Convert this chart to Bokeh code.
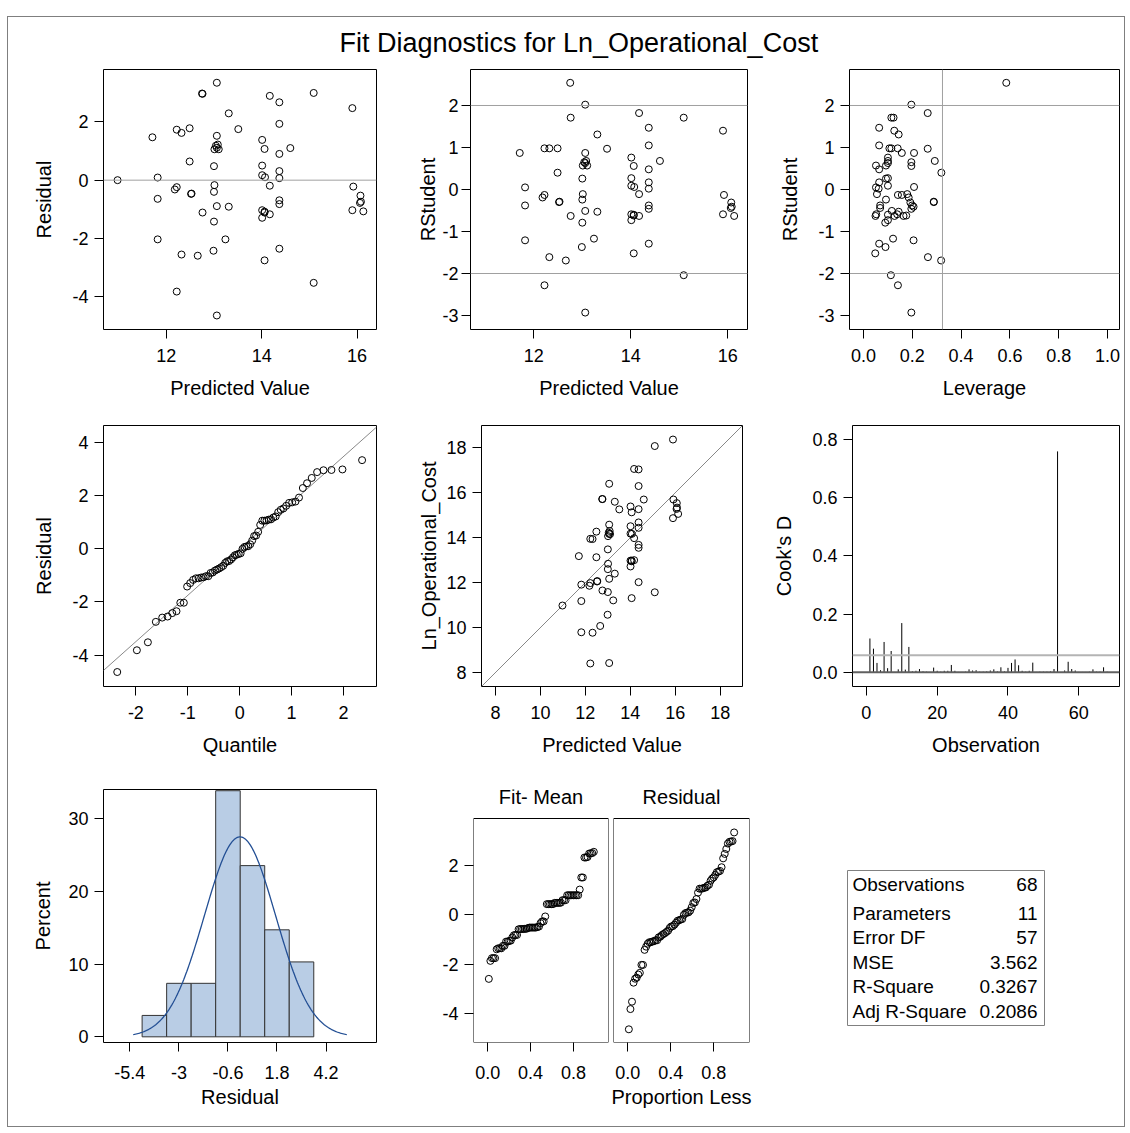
import math
import statistics
import numpy as np
from bokeh.plotting import figure
from bokeh.models import Range1d, FixedTicker, CustomJSTickFormatter, Span, BoxAnnotation, Label
from bokeh.layouts import row, column
from bokeh.embed import file_html
from bokeh.resources import INLINE
from bokeh.core.properties import value

nan = float("nan")

# ---------------- data ----------------
pred = [10.98, 11.71, 11.82, 11.82, 11.82, 12.18, 12.22, 12.22, 12.32, 12.32,
        12.22, 12.75, 12.76, 12.76, 12.66, 12.49, 12.49, 12.52, 12.53, 13.06,
        13.06, 13.01, 13.06, 13.10, 13.04, 13.08, 13.00, 13.01, 13.00, 13.06,
        13.00, 12.99, 13.06, 13.31, 13.51, 13.31, 13.24, 14.17, 14.01, 14.06,
        14.01, 14.01, 14.07, 14.17, 14.01, 14.06, 14.17, 14.01, 14.06, 14.06,
        14.37, 14.37, 14.37, 14.37, 14.37, 14.37, 14.37, 14.37, 14.60, 15.09,
        15.09, 15.90, 15.92, 16.07, 16.08, 16.06, 15.90, 16.13]
resid = [0.00, 1.47, 0.09, -0.64, -2.03, -0.32, -0.24, 1.73, 1.62, -2.55,
         -3.82, 2.97, 2.96, -1.11, -2.59, 1.78, 0.64, -0.47, -0.46, 3.34,
         1.52, 1.06, 1.11, 1.06, 1.18, 1.22, 0.48, -0.17, -0.40, -0.89,
         -1.42, -2.42, -4.64, 2.29, 1.75, -0.91, -2.03, 2.89, 1.38, 1.07,
         0.50, 0.17, 0.10, -0.19, -1.03, -1.11, -1.17, -1.29, -2.75, -1.08,
         2.67, 1.93, 0.90, 0.31, 0.07, -0.69, -0.82, -2.35, 1.10, 2.99,
         -3.52, 2.47, -0.22, -0.53, -0.74, -0.78, -1.03, -1.07]
rstudent = [nan, 0.87, 0.05, -0.38, -1.21, -0.19, -0.13, 0.98, 0.98, -1.61,
            -2.28, 2.54, 1.71, -0.63, -1.69, 0.98, 0.40, -0.30, -0.29, 2.02,
            0.87, 0.57, 0.63, 0.57, 0.65, 0.68, 0.26, -0.11, -0.24, -0.51,
            -0.79, -1.37, -2.93, 1.31, 0.97, -0.53, -1.17, 1.82, 0.76, 0.56,
            0.27, 0.09, 0.06, -0.11, -0.59, -0.62, -0.63, -0.73, -1.52, -0.60,
            1.47, 1.05, 0.48, 0.17, 0.02, -0.38, -0.46, -1.29, 0.68, 1.71,
            -2.04, 1.40, -0.13, -0.31, -0.41, -0.44, -0.59, -0.63]
leverage = [1.0, 0.157, 0.051, 0.068, 0.205, 0.185, 0.141, 0.106, 0.114, 0.264,
            0.141, 0.585, 0.114, 0.164, 0.318, 0.140, 0.319, 0.288, 0.288, 0.196,
            0.207, 0.051, 0.100, 0.092, 0.196, 0.100, 0.092, 0.055, 0.092, 0.116,
            0.089, 0.090, 0.196, 0.144, 0.263, 0.144, 0.121, 0.263, 0.100, 0.196,
            0.100, 0.100, 0.207, 0.179, 0.052, 0.175, 0.127, 0.100, 0.048, 0.100,
            0.064, 0.064, 0.064, 0.064, 0.062, 0.199, 0.196, 0.064, 0.292, 0.123,
            0.112, 0.126, 0.157, 0.192, 0.205, 0.068, 0.138, 0.049]
cooks_d = [0.116, 0.081, 0.032, 0.007, 0.104, 0.014, 0.073, 0.001, 0.010, 0.169,
           0.009, 0.087, 0.003, 0.005, 0.011, 0.003, 0.002, 0.001, 0.016, 0.005,
           0.002, 0.005, 0.005, 0.025, 0.005, 0.001, 0.001, 0.002, 0.010, 0.006,
           0.007, 0.002, 0.002, 0.003, 0.006, 0.010, 0.003, 0.017, 0.003, 0.015,
           0.032, 0.044, 0.024, 0.005, 0.002, 0.005, 0.033, 0.001, 0.002, 0.002,
           0.002, 0.003, 0.011, 0.759, nan, 0.006, 0.036, 0.011, 0.006, 0.001,
           0.001, 0.001, 0.002, 0.010, 0.002, 0.002, 0.017, 0.002]
hist_edges = [-4.8, -3.6, -2.4, -1.2, 0.0, 1.2, 2.4, 3.6]
n_params = 11
stat_labels = ["Observations", "Parameters", "Error DF", "MSE", "R-Square", "Adj R-Square"]
stat_values = ["68", "11", "57", "3.562", "0.3267", "0.2086"]
title_text = "Fit Diagnostics for Ln_Operational_Cost"

# ---------------- derived statistics ----------------
n = len(resid)
pred_a = np.array(pred)
resid_a = np.array(resid)
obs_a = pred_a + resid_a
rs_a = np.array(rstudent)
lev_a = np.array(leverage)
ok = ~np.isnan(rs_a)
mean_r = float(resid_a.mean())
sd_r = float(resid_a.std(ddof=1))
nd = statistics.NormalDist()
qq_q = [nd.inv_cdf((i + 1 - 0.375) / (n + 0.25)) for i in range(n)]
qq_r = sorted(resid)
prop = [(i + 1 - 0.375) / (n + 0.25) for i in range(n)]
fit_mean = sorted(list(pred_a - pred_a.mean()))
counts, _ = np.histogram(resid_a, bins=hist_edges)
pct = counts / n * 100.0
curve_x = np.linspace(mean_r - 3.0 * sd_r, mean_r + 3.0 * sd_r, 200)
curve_y = 100.0 * 1.2 * np.exp(-0.5 * ((curve_x - mean_r) / sd_r) ** 2) / (sd_r * math.sqrt(2 * math.pi))
obs_idx = [i + 1 for i in range(n) if not math.isnan(cooks_d[i])]
cd_vals = [c for c in cooks_d if not math.isnan(c)]

# ---------------- styling helpers ----------------
FONT = "Liberation Sans"
TICK_FS = "18px"
LAB_FS = "20px"
REF = "#a0a0a0"


def fmt_auto():
    return CustomJSTickFormatter(code="return String(Math.round(tick*10)/10);")


def fmt_one():
    return CustomJSTickFormatter(code="return tick.toFixed(1);")


def mkfig(W, H, L, R, T, B, xr, yr, outline=True):
    p = figure(width=W, height=H, x_range=Range1d(*xr), y_range=Range1d(*yr),
               output_backend="svg", toolbar_location=None,
               min_border_left=L, min_border_right=R,
               min_border_top=T, min_border_bottom=B)
    p.outline_line_color = "#000000" if outline else None
    p.outline_line_width = 1
    p.grid.visible = False
    p.background_fill_color = "white"
    p.border_fill_color = "white"
    for ax in p.axis:
        ax.axis_line_color = None
        ax.major_tick_line_color = "#000000"
        ax.major_tick_out = 9
        ax.major_tick_in = 0
        ax.minor_tick_line_color = None
        ax.major_label_text_font = FONT
        ax.major_label_text_font_size = TICK_FS
        ax.major_label_text_color = "#000000"
        ax.axis_label_text_font = FONT
        ax.axis_label_text_font_size = LAB_FS
        ax.axis_label_text_font_style = "normal"
        ax.axis_label_text_color = "#000000"
    p.xaxis.major_label_standoff = 10
    p.yaxis.major_label_standoff = 6
    p.xaxis.axis_label_standoff = 12
    p.yaxis.axis_label_standoff = 14
    return p


def ticks(p, xt, yt, xf=None, yf=None):
    p.xaxis.ticker = FixedTicker(ticks=xt)
    p.yaxis.ticker = FixedTicker(ticks=yt)
    p.xaxis.formatter = xf if xf is not None else fmt_auto()
    p.yaxis.formatter = yf if yf is not None else fmt_auto()


def circles(p, x, y):
    p.scatter(x, y, marker="circle", size=7, fill_color=None,
              line_color="#000000", line_width=1)


def hline(p, y, color=REF, width=1):
    p.add_layout(Span(location=y, dimension="width", line_color=color, line_width=width))


def vline(p, x, color=REF, width=1):
    p.add_layout(Span(location=x, dimension="height", line_color=color, line_width=width))


# ---------------- title ----------------
pt = figure(width=1116, height=50, x_range=Range1d(0, 1), y_range=Range1d(0, 1),
            output_backend="svg", toolbar_location=None,
            min_border_left=0, min_border_right=0, min_border_top=0, min_border_bottom=0)
pt.axis.visible = False
pt.grid.visible = False
pt.outline_line_color = None
pt.text(x=[0.511], y=[0.5], text=[title_text], text_align="center", text_baseline="middle",
        text_font=value(FONT), text_font_size="27px", text_color="#000000")

# ---------------- row 1 (cells: 8-400, 400-770, 770-1124) ----------------
p1 = mkfig(392, 343, 95, 24, 2, 81, (10.685, 16.406), (-5.12, 3.794))
ticks(p1, [12, 14, 16], [-4, -2, 0, 2])
hline(p1, 0)
circles(p1, pred, resid)
p1.xaxis.axis_label = "Predicted Value"
p1.yaxis.axis_label = "Residual"

p2 = mkfig(370, 343, 70, 23, 2, 81, (10.695, 16.405), (-3.333, 2.857))
ticks(p2, [12, 14, 16], [-3, -2, -1, 0, 1, 2])
hline(p2, 2)
hline(p2, -2)
circles(p2, list(pred_a[ok]), list(rs_a[ok]))
p2.xaxis.axis_label = "Predicted Value"
p2.yaxis.axis_label = "RStudent"
p2.yaxis.major_label_standoff = 3
p2.yaxis.axis_label_standoff = 0

p3 = mkfig(354, 343, 79, 5, 2, 81, (-0.0575, 1.049), (-3.333, 2.857))
ticks(p3, [0, 0.2, 0.4, 0.6, 0.8, 1.0], [-3, -2, -1, 0, 1, 2], xf=fmt_one())
hline(p3, 2)
hline(p3, -2)
vline(p3, 2.0 * n_params / n)
circles(p3, list(lev_a[ok]), list(rs_a[ok]))
p3.xaxis.axis_label = "Leverage"
p3.yaxis.axis_label = "RStudent"

# ---------------- row 2 ----------------
p4 = mkfig(392, 360, 95, 24, 15, 84, (-2.624, 2.637), (-5.185, 4.645))
ticks(p4, [-2, -1, 0, 1, 2], [-4, -2, 0, 2, 4])
p4.line([-2.624, 2.637], [mean_r - 2.624 * sd_r, mean_r + 2.637 * sd_r],
        line_color="#888888", line_width=1)
circles(p4, qq_q, qq_r)
p4.xaxis.axis_label = "Quantile"
p4.yaxis.axis_label = "Residual"

p5 = mkfig(370, 360, 81, 28, 15, 84, (7.376, 18.995), (7.376, 18.995))
ticks(p5, [8, 10, 12, 14, 16, 18], [8, 10, 12, 14, 16, 18])
p5.line([7.376, 18.995], [7.376, 18.995], line_color="#888888", line_width=1)
circles(p5, pred, list(obs_a))
p5.xaxis.axis_label = "Predicted Value"
p5.yaxis.axis_label = "Ln_Operational_Cost"
p5.yaxis.axis_label_standoff = 3

p6 = mkfig(354, 360, 79, 5, 15, 84, (-3.92, 71.5), (-0.049, 0.848))
ticks(p6, [0, 20, 40, 60], [0, 0.2, 0.4, 0.6, 0.8], yf=fmt_one())
hline(p6, 4.0 / n, color="#b4b4b4", width=2)
hline(p6, 0, color="#606060", width=2)
p6.segment(x0=obs_idx, y0=[0] * len(obs_idx), x1=obs_idx, y1=cd_vals,
           line_color="#000000", line_width=1)
p6.xaxis.axis_label = "Observation"
p6.yaxis.axis_label = "Cook's D"

# ---------------- row 3 (common frame y 789..1042) ----------------
p7 = mkfig(392, 356, 95, 24, 19, 84, (-6.69, 6.67), (-0.78, 33.99))
ticks(p7, [-5.4, -3, -0.6, 1.8, 4.2], [0, 10, 20, 30])
p7.quad(left=hist_edges[:-1], right=hist_edges[1:], bottom=0, top=list(pct),
        fill_color="#b9cde5", line_color="#333333", line_width=1)
p7.line(list(curve_x), list(curve_y), line_color="#234f94", line_width=1.3)
p7.xaxis.axis_label = "Residual"
p7.yaxis.axis_label = "Percent"
p7.yaxis.axis_label_standoff = 11

RF_Y = (-5.175, 5.081)
RF_TOP = 3.905
p8a = mkfig(211, 356, 73, 3, 19, 84, (-0.134, 1.128), RF_Y, outline=False)
ticks(p8a, [0, 0.4, 0.8], [-4, -2, 0, 2], xf=fmt_one())
p8a.add_layout(BoxAnnotation(left=-0.134, right=1.128, bottom=RF_Y[0], top=RF_TOP,
                             fill_color=None, line_color="#000000", line_alpha=1.0,
                             line_width=1))
circles(p8a, prop, fit_mean)
p8a.add_layout(Label(x=0.497, y=4.76, text="Fit- Mean", text_align="center",
                     text_baseline="middle", text_font=FONT, text_font_size=LAB_FS,
                     text_color="#000000"))
p8a.xaxis.axis_label = " "

p8b = mkfig(159, 356, 2, 21, 19, 84, (-0.134, 1.134), RF_Y, outline=False)
ticks(p8b, [0, 0.4, 0.8], [-4, -2, 0, 2], xf=fmt_one())
p8b.yaxis.visible = False
p8b.add_layout(BoxAnnotation(left=-0.134, right=1.134, bottom=RF_Y[0], top=RF_TOP,
                             fill_color=None, line_color="#000000", line_alpha=1.0,
                             line_width=1))
circles(p8b, prop, qq_r)
p8b.add_layout(Label(x=0.5, y=4.76, text="Residual", text_align="center",
                     text_baseline="middle", text_font=FONT, text_font_size=LAB_FS,
                     text_color="#000000"))
p8b.xaxis.axis_label = "Proportion Less"

for p in (p7, p8a, p8b):
    p.xaxis.major_label_standoff = 14
    p.xaxis.axis_label_standoff = 4

# statistics table, drawn in page-pixel coordinates (x 770..1124, y 789..1042)
p9 = figure(width=354, height=356, x_range=Range1d(770, 1124), y_range=Range1d(1042, 789),
            output_backend="svg", toolbar_location=None,
            min_border_left=0, min_border_right=0, min_border_top=19, min_border_bottom=84)
p9.axis.visible = False
p9.grid.visible = False
p9.outline_line_color = None
p9.border_fill_color = "white"
p9.background_fill_color = "white"
p9.quad(left=[847], right=[1044], top=[870], bottom=[1025],
        fill_color=None, line_color="#808080", line_width=1)
row_y = [883.5, 912.5, 937.0, 961.5, 986.0, 1010.5]
p9.text(x=[852] * 6, y=row_y, text=stat_labels, text_align="left", text_baseline="middle",
        text_font=value(FONT), text_font_size="19px", text_color="#000000")
p9.text(x=[1037] * 6, y=row_y, text=stat_values, text_align="right", text_baseline="middle",
        text_font=value(FONT), text_font_size="19px", text_color="#000000")

root = column(
    pt,
    row(p1, p2, p3),
    row(p4, p5, p6),
    row(p7, p8a, p8b, p9),
    styles={"border": "1px solid #7f7f7f"},
    margin=(16, 0, 0, 7),
)

open("out.html", "w").write(file_html(root, INLINE))
